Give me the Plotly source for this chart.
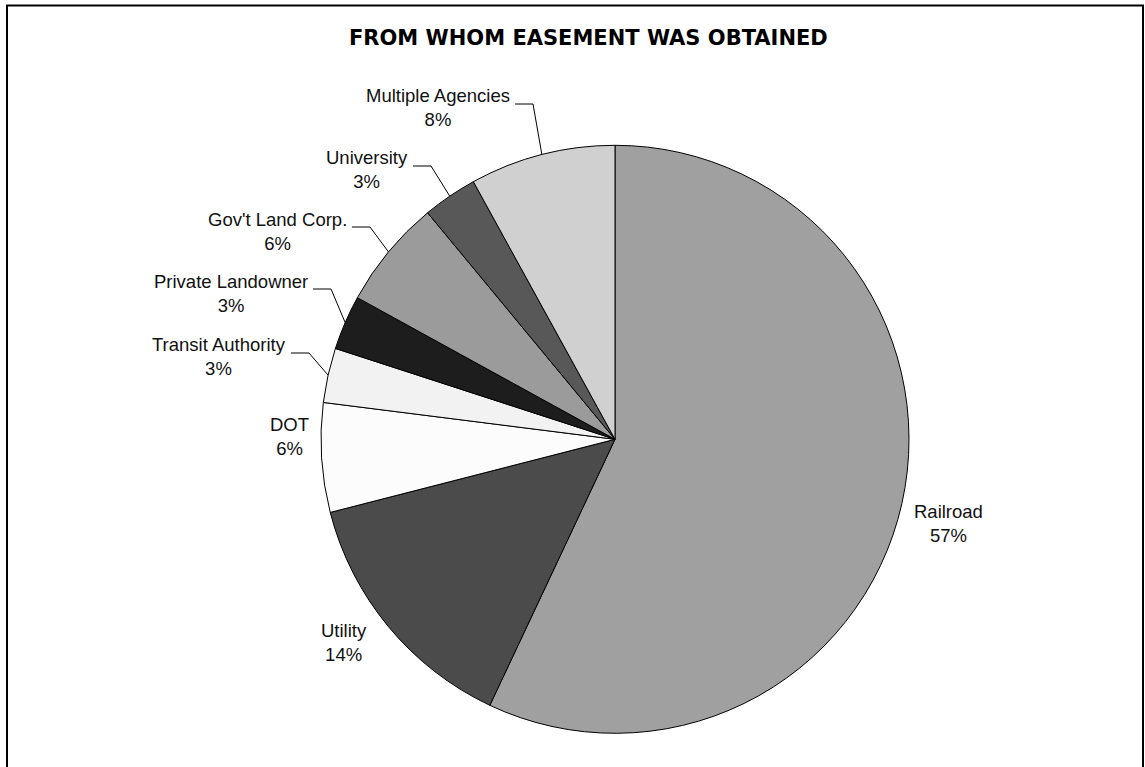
import math
import plotly.graph_objects as go

# ---- data ----
categories = ["Railroad", "Utility", "DOT", "Transit Authority", "Private Landowner",
              "Gov't Land Corp.", "University", "Multiple Agencies"]
shares = [57, 14, 6, 3, 3, 6, 3, 8]
slice_colors = ["#A0A0A0", "#4B4B4B", "#FCFCFC", "#F2F2F2", "#1D1D1D",
                "#9B9B9B", "#585858", "#D0D0D0"]
title_text = "FROM WHOM EASEMENT WAS OBTAINED"

# ---- layout geometry (pixels) ----
W, H = 1145, 767
CX, CY, R = 615.0, 439.3, 294.0

# label placement: (x, y_center, xanchor, has_leader)
label_place = {
    "Railroad": (948, 523, "center", False),
    "Utility": (344, 642, "center", False),
    "DOT": (289, 436, "center", False),
    "Transit Authority": (288, 357, "right", True),
    "Private Landowner": (310, 293, "right", True),
    "Gov't Land Corp.": (349, 231, "right", True),
    "University": (410, 170, "right", True),
    "Multiple Agencies": (512, 108, "right", True),
}


def px2paper(x, y):
    return x / W, 1 - y / H


fig = go.Figure()
fig.add_trace(go.Pie(
    labels=categories,
    values=shares,
    sort=False,
    direction="clockwise",
    rotation=0,
    textinfo="none",
    marker=dict(colors=slice_colors, line=dict(color="#000000", width=1)),
    showlegend=False,
    domain=dict(x=[(CX - R) / W, (CX + R) / W],
                y=[1 - (CY + R) / H, 1 - (CY - R) / H]),
    hovertemplate="%{label}: %{percent}<extra></extra>",
))

total = sum(shares)
annotations = []
shapes = []
cum = 0.0
for cat, v in zip(categories, shares):
    mid = (cum + v / 2) / total * 2 * math.pi
    cum += v
    ex = CX + R * math.sin(mid)
    ey = CY - R * math.cos(mid)
    lx, ly, anc, leader = label_place[cat]
    pct = round(v / total * 100)
    ax_, ay_ = px2paper(lx, ly)
    annotations.append(dict(
        x=ax_, y=ay_, xref="paper", yref="paper",
        xanchor=anc, yanchor="middle", align="center",
        text=f"{cat}<br>{pct}%", showarrow=False,
        font=dict(family="Liberation Sans, Arial, sans-serif", size=18.5, color="#111111"),
    ))
    if leader:
        sx, sy = lx + 3, ly - 4
        kx = sx + 18
        p = [px2paper(sx, sy), px2paper(kx, sy), px2paper(ex, ey)]
        path = "M {} {} L {} {} L {} {}".format(p[0][0], p[0][1], p[1][0], p[1][1], p[2][0], p[2][1])
        shapes.append(dict(type="path", path=path, xref="paper", yref="paper",
                           line=dict(color="#000000", width=1)))

# frame around the chart
fx0, fy1 = px2paper(7, 5.5)
fx1, _ = px2paper(1143, 0)
shapes.append(dict(type="rect", xref="paper", yref="paper",
                   x0=fx0, x1=fx1, y0=-0.05, y1=fy1,
                   line=dict(color="#000000", width=2), fillcolor="rgba(0,0,0,0)"))

tx, ty = px2paper(588.5, 38)
annotations.append(dict(
    x=tx, y=ty, xref="paper", yref="paper", xanchor="center", yanchor="middle",
    text=f"<b>{title_text}</b>", showarrow=False,
    font=dict(family="DejaVu Sans, sans-serif", size=21, color="#000000"),
))

fig.update_layout(
    width=W, height=H,
    margin=dict(l=0, r=0, t=0, b=0),
    paper_bgcolor="#FFFFFF",
    plot_bgcolor="#FFFFFF",
    annotations=annotations,
    shapes=shapes,
)

fig.write_html("out.html", config={"displayModeBar": False},
               post_script="document.body.style.margin='0';document.body.style.overflow='hidden';")
